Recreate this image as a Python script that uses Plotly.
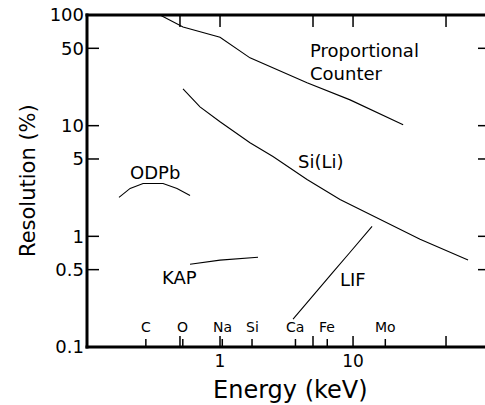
import plotly.graph_objects as go
import numpy as np

# ---- data ----
prop_e = [0.354, 0.527, 1.0, 1.68, 4.51, 9.5, 23.8]
prop_r = [100, 78, 63, 41, 24.4, 17.1, 10.2]

sili_e = [0.527, 0.707, 1.0, 1.68, 2.50, 4.51, 7.98, 16.0, 31.9, 73.2]
sili_r = [21.5, 14.8, 10.85, 7.0, 5.26, 3.26, 2.15, 1.42, 0.94, 0.61]

odpb_e = [0.174, 0.211, 0.264, 0.373, 0.475, 0.595]
odpb_r = [2.25, 2.71, 3.0, 3.0, 2.71, 2.34]

kap_e = [0.595, 1.0, 1.93]
kap_r = [0.56, 0.61, 0.647]

lif_e = [3.54, 5.0, 7.07, 9.5, 11.9, 13.9]
lif_r = [0.179, 0.288, 0.474, 0.718, 1.0, 1.23]

elements = ["C", "O", "Na", "Si", "Ca", "Fe", "Mo"]
element_e = [0.277, 0.525, 1.04, 1.74, 3.69, 6.40, 17.48]

x_major = [0.5, 1, 5, 10, 50]
x_major_text = ["", "1", "", "10", ""]
y_ticks = [0.1, 0.5, 1, 5, 10, 50, 100]
y_tick_text = ["0.1", "0.5", "1", "5", "10", "50", "100"]
y_inner_ticks = [0.5, 1, 5, 10, 50]

curve_labels = ["Proportional<br>Counter", "Si(Li)", "ODPb", "KAP", "LIF"]
label_e = [4.59, 5.75, 0.322, 0.50, 10.0]
label_r = [37.7, 4.74, 3.77, 0.427, 0.41]
label_anchor = ["left", "center", "center", "center", "center"]

X_MIN, X_MAX_LOG = 0.1, 1.992      # energy axis: left frame value, right edge (log10)
Y_MIN, Y_MAX = 0.1, 100            # resolution axis frame values

# ---- layout geometry ----
FONT = "DejaVu Sans"
BLACK = "black"
PX_X = 133.0      # px per decade, energy axis
PX_Y = 110.67     # px per decade, resolution axis
PAD = 2.0         # px between frame line centre and plot-area edge
XR = [np.log10(X_MIN) - PAD / PX_X, X_MAX_LOG]
YR = [np.log10(Y_MIN) - PAD / PX_Y, np.log10(Y_MAX) + PAD / PX_Y]
ML, MT = 85, 13
PLOT_W = round((XR[1] - XR[0]) * PX_X)
PLOT_H = round((YR[1] - YR[0]) * PX_Y)
MB = 405 - MT - PLOT_H
X_EDGE = 10 ** XR[1]


def fx(px):  # multiplicative factor for a px offset along the energy axis
    return 10 ** (px / PX_X)


def fy(px):  # multiplicative factor for a px offset along the resolution axis
    return 10 ** (px / PX_Y)


fig = go.Figure()
for xs, ys in [(prop_e, prop_r), (sili_e, sili_r), (odpb_e, odpb_r),
               (kap_e, kap_r), (lif_e, lif_r)]:
    fig.add_trace(go.Scatter(x=xs, y=ys, mode="lines",
                             line=dict(color=BLACK, width=1.1),
                             showlegend=False, hoverinfo="skip"))


def seg_trace(xs, ys, width):
    fig.add_trace(go.Scatter(x=xs, y=ys, mode="lines", connectgaps=False,
                             line=dict(color=BLACK, width=width),
                             showlegend=False, hoverinfo="skip"))


# tick marks drawn from the tick arrays through the axes
tx, ty = [], []
for v in x_major:                         # bottom major ticks (up) and top ticks (down)
    tx += [v, v, None, v, v, None]
    ty += [Y_MIN, Y_MIN * fy(11), None, Y_MAX, Y_MAX / fy(12), None]
for v in element_e:                       # element marker ticks (up)
    tx += [v, v, None]
    ty += [Y_MIN, Y_MIN * fy(8), None]
for v in y_inner_ticks:                   # left ticks (right) and right ticks (left)
    tx += [X_MIN, X_MIN * fx(12), None, X_EDGE, X_EDGE / fx(7), None]
    ty += [v, v, None, v, v, None]
seg_trace(tx, ty, 1.5)

# frame: left, bottom, top lines
c = 1.5
seg_trace([X_MIN, X_MIN, None, X_MIN / fx(c), X_EDGE, None, X_MIN / fx(c), X_EDGE],
          [Y_MIN / fy(c), Y_MAX * fy(c), None, Y_MIN, Y_MIN, None, Y_MAX, Y_MAX], 3)

for t, xe, yr, anc in zip(curve_labels, label_e, label_r, label_anchor):
    fig.add_annotation(x=np.log10(xe), y=np.log10(yr), text=t, showarrow=False,
                       xanchor=anc, yanchor="middle", align="left",
                       font=dict(family=FONT, size=18, color=BLACK))

for el, xe in zip(elements, element_e):
    fig.add_annotation(x=np.log10(xe), y=np.log10(0.151), text=el, showarrow=False,
                       xanchor="center", yanchor="middle",
                       font=dict(family=FONT, size=14, color=BLACK))

# axis titles
fig.add_annotation(xref="paper", yref="paper", x=(290 - ML) / PLOT_W,
                   y=-(390 - (MT + PLOT_H)) / PLOT_H,
                   text="Energy (keV)", showarrow=False, xanchor="center",
                   yanchor="middle", font=dict(family=FONT, size=24, color=BLACK))
fig.add_annotation(xref="paper", yref="paper", x=-(ML - 28) / PLOT_W, y=0.5,
                   text="Resolution (%)", showarrow=False, textangle=-90,
                   xanchor="center", yanchor="middle",
                   font=dict(family=FONT, size=21, color=BLACK))

fig.update_layout(
    width=485, height=405,
    margin=dict(l=ML, r=485 - ML - PLOT_W, t=MT, b=MB),
    paper_bgcolor="white", plot_bgcolor="white",
    font=dict(family=FONT, color=BLACK),
    xaxis=dict(type="log", range=XR, showgrid=False, zeroline=False,
               showline=False, ticks="", tickvals=x_major, ticktext=x_major_text,
               tickfont=dict(family=FONT, size=17)),
    yaxis=dict(type="log", range=YR, showgrid=False, zeroline=False,
               showline=False, ticks="", tickvals=y_ticks, ticktext=y_tick_text,
               tickfont=dict(family=FONT, size=18)),
)

fig.write_html("out.html")
